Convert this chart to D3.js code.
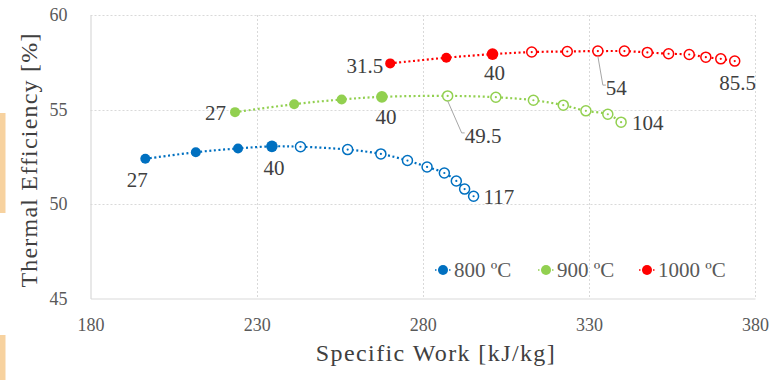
<!DOCTYPE html>
<html>
<head>
<meta charset="utf-8">
<script src="https://cdn.jsdelivr.net/npm/d3@7"></script>
<style>
  html, body { margin: 0; padding: 0; background: #fff; }
  svg, svg text { font-family: "Liberation Serif", serif; }
</style>
</head>
<body>
<svg id="chart" width="780" height="380"></svg>
<script>
// Turbine inlet temperature cases
const seriesNames = ["800 ºC", "900 ºC", "1000 ºC"];
const seriesColors = ["#0070C0", "#92D050", "#FF0000"];

// Specific work [kJ/kg] and thermal efficiency [%] along each curve
const work800 = [196.5, 211.7, 224.4, 234.6, 243.2, 257.4, 267.4, 275.4, 281.3, 286.5, 290.1, 292.6, 295.3];
const eff800  = [52.39, 52.74, 52.94, 53.05, 53.03, 52.88, 52.65, 52.30, 51.96, 51.64, 51.22, 50.79, 50.41];
const work900 = [223.5, 241.3, 255.6, 267.7, 287.5, 302.0, 313.3, 322.3, 329.1, 335.7, 339.7];
const eff900  = [54.86, 55.28, 55.53, 55.67, 55.72, 55.65, 55.49, 55.23, 54.93, 54.75, 54.33];
const work1000 = [270.2, 287.1, 301.0, 312.8, 323.5, 332.7, 340.7, 347.6, 354.0, 360.2, 365.2, 369.7, 373.9];
const eff1000  = [57.44, 57.74, 57.93, 58.04, 58.07, 58.09, 58.09, 58.02, 57.95, 57.91, 57.77, 57.68, 57.56];

// Number of leading points drawn as solid markers
const solidCount = [4, 4, 3];

// Pressure-ratio annotations: [point index, text]
const labels800  = [[0, "27"], [3, "40"], [12, "117"]];
const labels900  = [[0, "27"], [3, "40"], [4, "49.5"], [10, "104"]];
const labels1000 = [[0, "31.5"], [2, "40"], [5, "54"], [12, "85.5"]];

// Axis ticks
const xTicks = [180, 230, 280, 330, 380];
const yTicks = [45, 50, 55, 60];

// ---- layout ----
const svg = d3.select("#chart");
const M = { left: 90.5, right: 755, top: 15, bottom: 298.5 };
const x = d3.scaleLinear().domain([180, 380]).range([M.left, M.right]);
const y = d3.scaleLinear().domain([45, 60]).range([M.bottom, M.top]);
const FONT = "'Liberation Serif', serif";

// label placement per annotation (same order as the label arrays)
const place800  = [{ dx: -8, dy: 21, a: "middle" }, { dx: 2, dy: 21, a: "middle" }, { dx: 10, dy: 0, a: "start" }];
const place900  = [{ dx: -9, dy: 1, a: "end" }, { dx: 4, dy: 20, a: "middle" }, { leader: [14, 37], dx: 17, dy: 40, a: "start" }, { dx: 11, dy: 0, a: "start" }];
const place1000 = [{ dx: -7, dy: 2, a: "end" }, { dx: 2, dy: 19, a: "middle" }, { leader: [5, 34], dx: 8, dy: 37, a: "start" }, { dx: 3, dy: 22, a: "middle" }];

const series = [
  { name: seriesNames[0], color: seriesColors[0], xs: work800, ys: eff800, solid: solidCount[0], labels: labels800, place: place800 },
  { name: seriesNames[1], color: seriesColors[1], xs: work900, ys: eff900, solid: solidCount[1], labels: labels900, place: place900 },
  { name: seriesNames[2], color: seriesColors[2], xs: work1000, ys: eff1000, solid: solidCount[2], labels: labels1000, place: place1000 }
];

// side tabs at the left edge
svg.append("rect").attr("x", 0).attr("y", 113).attr("width", 5.5).attr("height", 100).attr("fill", "#F7D29F");
svg.append("rect").attr("x", 0).attr("y", 335).attr("width", 5.5).attr("height", 45).attr("fill", "#F7D29F");

// ---- gridlines ----
const grid = svg.append("g").attr("stroke", "#D9D9D9").attr("stroke-width", 1).attr("stroke-dasharray", "2,2");
grid.selectAll("line.gx").data(xTicks.slice(1)).join("line")
  .attr("x1", d => Math.round(x(d)) + 0.5).attr("x2", d => Math.round(x(d)) + 0.5)
  .attr("y1", M.top).attr("y2", M.bottom);
grid.selectAll("line.gy").data(yTicks.slice(1)).join("line")
  .attr("y1", d => Math.round(y(d)) + 0.5).attr("y2", d => Math.round(y(d)) + 0.5)
  .attr("x1", M.left).attr("x2", M.right);

// ---- axes ----
const xAxis = svg.append("g").attr("transform", `translate(0,${M.bottom})`)
  .call(d3.axisBottom(x).tickValues(xTicks).tickSize(0).tickPadding(20));
const yAxis = svg.append("g").attr("transform", `translate(${M.left},0)`)
  .call(d3.axisLeft(y).tickValues(yTicks).tickSize(0).tickPadding(23));
[xAxis, yAxis].forEach(g => {
  g.attr("font-family", FONT).attr("font-size", 18);
  g.select(".domain").attr("stroke", "#D9D9D9").attr("stroke-width", 1.2);
  g.selectAll("text").attr("fill", "#595959");
});
xAxis.selectAll("text").attr("dy", "0.71em");

svg.append("text")
  .attr("x", 436).attr("y", 361)
  .attr("text-anchor", "middle").attr("fill", "#404040")
  .attr("font-family", FONT).attr("font-size", 24).style("letter-spacing", "1.4px")
  .text("Specific Work [kJ/kg]");
svg.append("text")
  .attr("transform", "translate(37,160) rotate(-90)")
  .attr("text-anchor", "middle").attr("fill", "#404040")
  .attr("font-family", FONT).attr("font-size", 24).style("letter-spacing", "1.2px")
  .text("Thermal Efficiency [%]");

// ---- series ----
const line = d3.line().x(d => x(d[0])).y(d => y(d[1])).curve(d3.curveCatmullRom.alpha(0.5));

series.forEach(s => {
  const pts = s.xs.map((v, i) => [v, s.ys[i]]);
  const g = svg.append("g");
  g.append("path").datum(pts).attr("d", line)
    .attr("fill", "none").attr("stroke", s.color).attr("stroke-width", 2.2)
    .attr("stroke-dasharray", "2,2.6");

  const labelled = new Set(s.labels.filter(l => l[1] === "40").map(l => l[0]));
  g.selectAll("circle.solid").data(pts.slice(0, s.solid)).join("circle")
    .attr("cx", d => x(d[0])).attr("cy", d => y(d[1]))
    .attr("r", (d, i) => labelled.has(i) ? 5.8 : 5)
    .attr("fill", s.color);

  const open = pts.slice(s.solid);
  g.selectAll("circle.open").data(open).join("circle")
    .attr("cx", d => x(d[0])).attr("cy", d => y(d[1])).attr("r", 5)
    .attr("fill", "#fff").attr("stroke", s.color).attr("stroke-width", 1.5);
  g.selectAll("circle.dot").data(open).join("circle")
    .attr("cx", d => x(d[0])).attr("cy", d => y(d[1])).attr("r", 1.1)
    .attr("fill", s.color);

  // annotations
  s.labels.forEach((l, k) => {
    const p = pts[l[0]], pl = s.place[k];
    const px = x(p[0]), py = y(p[1]);
    if (pl.leader) {
      svg.append("polyline")
        .attr("points", `${px},${py + 5} ${px + pl.leader[0]},${py + pl.leader[1]} ${px + pl.leader[0] + 3},${py + pl.leader[1]}`)
        .attr("fill", "none").attr("stroke", "#A6A6A6").attr("stroke-width", 1);
    }
    svg.append("text")
      .attr("x", px + pl.dx).attr("y", py + pl.dy)
      .attr("dy", "0.35em").attr("text-anchor", pl.a)
      .attr("fill", "#404040").attr("font-family", FONT).attr("font-size", 21)
      .text(l[1]);
  });
});

// ---- legend ----
const legendX = [443, 546, 647];
const leg = svg.append("g");
series.forEach((s, i) => {
  const lx = legendX[i], ly = 270;
  leg.append("line").attr("x1", lx - 8).attr("x2", lx + 8).attr("y1", ly).attr("y2", ly)
    .attr("stroke", s.color).attr("stroke-width", 1.5).attr("stroke-dasharray", "1.5,2");
  leg.append("circle").attr("cx", lx).attr("cy", ly).attr("r", 5).attr("fill", s.color);
  leg.append("text").attr("x", lx + 11).attr("y", ly).attr("dy", "0.35em")
    .attr("fill", "#595959").attr("font-family", FONT).attr("font-size", 21).text(s.name);
});
</script>
</body>
</html>
